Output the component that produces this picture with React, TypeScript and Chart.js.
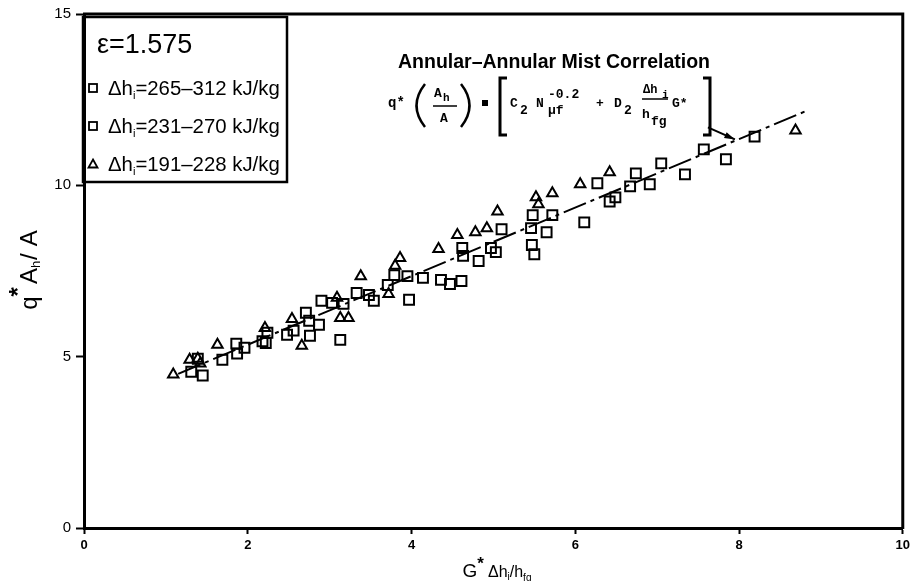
import React, { useEffect, useRef } from 'react';
import { Chart, registerables } from 'chart.js';

Chart.register(...registerables);

const X_TICKS = [0, 2, 4, 6, 8, 10];
const Y_TICKS = [0, 5, 10, 15];

const EPSILON_LABEL = 'ε=1.575';
const SERIES_RANGES = ['=265–312 kJ/kg', '=231–270 kJ/kg', '=191–228 kJ/kg'];
const TITLE = 'Annular–Annular Mist Correlation';

// Δh_i = 231–270 kJ/kg (squares)
const sqMidX = [1.31, 1.45, 1.39, 1.69, 1.86, 1.87, 1.96, 2.18, 2.22, 2.24, 2.48, 2.56, 2.71, 2.75, 2.87, 2.76, 3.13, 2.90, 3.03, 3.17, 3.33, 3.48, 3.54, 3.71, 3.79, 3.95, 3.97, 4.14, 4.36, 4.47];
const sqMidY = [4.56, 4.45, 4.94, 4.91, 5.38, 5.09, 5.26, 5.45, 5.40, 5.70, 5.64, 5.76, 6.28, 6.05, 5.93, 5.61, 5.49, 6.63, 6.57, 6.54, 6.86, 6.80, 6.63, 7.09, 7.38, 7.35, 6.66, 7.30, 7.24, 7.12];

// Δh_i = 265–312 kJ/kg (squares)
const sqHighX = [4.61, 4.62, 4.63, 4.82, 4.97, 5.03, 5.10, 5.46, 5.48, 5.47, 5.50, 5.65, 5.72, 6.11, 6.27, 6.42, 6.49, 6.67, 6.74, 6.91, 7.05, 7.34, 7.57, 7.84, 8.19];
const sqHighY = [7.21, 8.17, 7.94, 7.79, 8.17, 8.05, 8.72, 8.75, 9.13, 8.26, 7.99, 8.63, 9.13, 8.92, 10.06, 9.53, 9.65, 9.97, 10.35, 10.03, 10.64, 10.32, 11.05, 10.76, 11.42];

// Δh_i = 191–228 kJ/kg (triangles)
const triX = [1.09, 1.29, 1.39, 1.42, 1.63, 2.21, 2.54, 2.66, 3.09, 3.13, 3.23, 3.38, 3.72, 3.80, 3.86, 4.33, 4.56, 4.78, 4.92, 5.05, 5.52, 5.55, 5.72, 6.06, 6.42, 8.69];
const triY = [4.48, 4.91, 4.94, 4.80, 5.35, 5.84, 6.10, 5.32, 6.72, 6.13, 6.13, 7.35, 6.83, 7.65, 7.88, 8.14, 8.55, 8.63, 8.75, 9.24, 9.65, 9.45, 9.77, 10.03, 10.38, 11.60];

// correlation line
const fitX = [1.15, 8.8];
const fitY = [4.5, 12.15];

// arrow from formula to line
const arrowX = [7.62, 7.95];
const arrowY = [11.69, 11.34];

const FAM = '"Liberation Sans", Arial, sans-serif';
const MONO = '"Liberation Mono", "DejaVu Sans Mono", monospace';

type Seg = { t: string; s: number; dy?: number; dx?: number; w?: string; f?: string };

function richWidth(ctx: CanvasRenderingContext2D, segs: Seg[], fam: string) {
  let tot = 0;
  for (const g of segs) {
    ctx.font = `${g.w || 'normal'} ${g.s}px ${g.f || fam}`;
    tot += ctx.measureText(g.t).width + (g.dx || 0);
  }
  return tot;
}

function drawRich(ctx: CanvasRenderingContext2D, segs: Seg[], x: number, y: number, fam: string, align: 'left' | 'center') {
  const tot = richWidth(ctx, segs, fam);
  let cx = align === 'center' ? x - tot / 2 : x;
  ctx.textAlign = 'left';
  ctx.textBaseline = 'alphabetic';
  for (const g of segs) {
    ctx.font = `${g.w || 'normal'} ${g.s}px ${g.f || fam}`;
    cx += g.dx || 0;
    ctx.fillText(g.t, cx, y + (g.dy || 0));
    cx += ctx.measureText(g.t).width;
  }
}

function fitSize(ctx: CanvasRenderingContext2D, text: string, weight: string, fam: string, target: number) {
  let s = 30;
  for (; s > 6; s -= 0.5) {
    ctx.font = `${weight} ${s}px ${fam}`;
    if (ctx.measureText(text).width <= target) break;
  }
  return s;
}

const decorPlugin = {
  id: 'decor',
  afterDraw(chart: any) {
    const ctx: CanvasRenderingContext2D = chart.ctx;
    const { left, right, top, bottom } = chart.chartArea;
    const xs = chart.scales.x;
    const ys = chart.scales.y;
    ctx.save();
    ctx.fillStyle = '#000';
    ctx.strokeStyle = '#000';

    // frame top & right
    ctx.lineWidth = 3;
    ctx.beginPath();
    ctx.moveTo(left - 1, top);
    ctx.lineTo(right, top);
    ctx.lineTo(right, bottom + 1);
    ctx.stroke();

    // legend box
    ctx.lineWidth = 2.5;
    ctx.strokeRect(83, 17, 204, 165);
    const es = fitSize(ctx, EPSILON_LABEL, 'normal', FAM, 96);
    ctx.font = `normal ${es}px ${FAM}`;
    ctx.textAlign = 'left';
    ctx.fillText(EPSILON_LABEL, 97, 53);

    const entryY = [95, 133, 171];
    const markY = [88, 126, 164];
    const segsFor = (r: string): Seg[] => [
      { t: 'Δh', s: 19 },
      { t: 'i', s: 11, dy: 4 },
      { t: r, s: 19 },
    ];
    let scale = 172 / richWidth(ctx, segsFor(SERIES_RANGES[0]), FAM);
    const ls = Math.min(22, 19 * scale);
    for (let i = 0; i < 3; i++) {
      const segs: Seg[] = [
        { t: 'Δh', s: ls },
        { t: 'i', s: ls * 0.55, dy: 4 },
        { t: SERIES_RANGES[i], s: ls },
      ];
      drawRich(ctx, segs, 108, entryY[i], FAM, 'left');
      ctx.lineWidth = 1.8;
      if (i < 2) {
        ctx.strokeRect(89, markY[i] - 4, 8, 8);
      } else {
        ctx.beginPath();
        ctx.moveTo(93, markY[i] - 4.5);
        ctx.lineTo(97.5, markY[i] + 3.5);
        ctx.lineTo(88.5, markY[i] + 3.5);
        ctx.closePath();
        ctx.stroke();
      }
    }

    // title
    const ts = fitSize(ctx, TITLE, 'bold', FAM, 315);
    ctx.font = `bold ${ts}px ${FAM}`;
    ctx.textAlign = 'left';
    ctx.fillText(TITLE, 398, 68);

    // formula
    const mono = (t: string, x: number, y: number, s = 14, w = 'bold') => {
      ctx.font = `${w} ${s}px ${MONO}`;
      ctx.textAlign = 'left';
      ctx.fillText(t, x, y);
    };
    mono('q*', 388, 107);
    ctx.lineWidth = 2.5;
    // parens
    ctx.beginPath();
    ctx.moveTo(425, 84);
    ctx.quadraticCurveTo(408, 105.5, 425, 127);
    ctx.stroke();
    ctx.beginPath();
    ctx.moveTo(461, 84);
    ctx.quadraticCurveTo(478, 105.5, 461, 127);
    ctx.stroke();
    mono('A', 434, 97, 13);
    mono('h', 443, 101, 11);
    ctx.lineWidth = 1.5;
    ctx.beginPath();
    ctx.moveTo(433, 106);
    ctx.lineTo(457, 106);
    ctx.stroke();
    mono('A', 440, 122, 13);
    // equals (block)
    ctx.fillRect(482, 100, 6, 6);
    // brackets
    ctx.lineWidth = 3;
    ctx.beginPath();
    ctx.moveTo(507, 78);
    ctx.lineTo(500, 78);
    ctx.lineTo(500, 135);
    ctx.lineTo(507, 135);
    ctx.stroke();
    ctx.beginPath();
    ctx.moveTo(703, 78);
    ctx.lineTo(710, 78);
    ctx.lineTo(710, 135);
    ctx.lineTo(703, 135);
    ctx.stroke();
    mono('C', 510, 107, 13);
    mono('2', 520, 114, 13);
    mono('N', 536, 107, 13);
    mono('-0.2', 548, 98, 13);
    mono('μf', 548, 114, 13);
    mono('+', 596, 107, 13);
    mono('D', 614, 107, 13);
    mono('2', 624, 114, 13);
    mono('Δh', 643, 93, 12);
    mono('i', 662, 98, 11);
    ctx.lineWidth = 1.5;
    ctx.beginPath();
    ctx.moveTo(642, 99);
    ctx.lineTo(668, 99);
    ctx.stroke();
    mono('h', 642, 118, 13);
    mono('fg', 651, 125, 13);
    mono('G*', 672, 107, 13);

    // arrow
    const ax0 = xs.getPixelForValue(arrowX[0]);
    const ay0 = ys.getPixelForValue(arrowY[0]);
    const ax1 = xs.getPixelForValue(arrowX[1]);
    const ay1 = ys.getPixelForValue(arrowY[1]);
    ctx.lineWidth = 2;
    ctx.beginPath();
    ctx.moveTo(ax0, ay0);
    ctx.lineTo(ax1, ay1);
    ctx.stroke();
    const ang = Math.atan2(ay1 - ay0, ax1 - ax0);
    ctx.beginPath();
    ctx.moveTo(ax1, ay1);
    ctx.lineTo(ax1 - 11 * Math.cos(ang - 0.3), ay1 - 11 * Math.sin(ang - 0.3));
    ctx.lineTo(ax1 - 11 * Math.cos(ang + 0.3), ay1 - 11 * Math.sin(ang + 0.3));
    ctx.closePath();
    ctx.fill();

    // x axis title
    drawRich(
      ctx,
      [
        { t: 'G', s: 19 },
        { t: '*', s: 17, dy: -8, w: 'bold' },
        { t: 'Δh', s: 16, dx: 4 },
        { t: 'i', s: 10, dy: 3 },
        { t: '/h', s: 16 },
        { t: 'fg', s: 10, dy: 4 },
      ],
      497,
      577,
      FAM,
      'center'
    );

    // y axis title (rotated)
    ctx.save();
    ctx.translate(37, 270);
    ctx.rotate(-Math.PI / 2);
    drawRich(
      ctx,
      [
        { t: 'q', s: 24 },
        { t: '*', s: 24, dy: -11, w: 'bold' },
        { t: 'A', s: 24, dx: 3 },
        { t: 'h', s: 13, dy: 3 },
        { t: '/', s: 24, dx: 1 },
        { t: 'A', s: 24, dx: 7 },
      ],
      0,
      0,
      FAM,
      'center'
    );
    ctx.restore();

    ctx.restore();
  },
};

export default function App() {
  const ref = useRef<HTMLCanvasElement | null>(null);

  useEffect(() => {
    document.body.style.margin = '0';
    const canvas = ref.current;
    if (!canvas) return;
    const toPts = (xs: number[], ys: number[]) => xs.map((x, i) => ({ x, y: ys[i] }));
    const chart = new Chart(canvas, {
      type: 'scatter',
      data: {
        datasets: [
          {
            label: 'Δh_i=265–312 kJ/kg',
            data: toPts(sqHighX, sqHighY),
            pointStyle: 'rect',
            pointRadius: 7,
            pointBorderWidth: 2,
            pointBorderColor: '#000',
            pointBackgroundColor: 'rgba(0,0,0,0)',
          },
          {
            label: 'Δh_i=231–270 kJ/kg',
            data: toPts(sqMidX, sqMidY),
            pointStyle: 'rect',
            pointRadius: 7,
            pointBorderWidth: 2,
            pointBorderColor: '#000',
            pointBackgroundColor: 'rgba(0,0,0,0)',
          },
          {
            label: 'Δh_i=191–228 kJ/kg',
            data: toPts(triX, triY),
            pointStyle: 'triangle',
            pointRadius: 6,
            pointBorderWidth: 2,
            pointBorderColor: '#000',
            pointBackgroundColor: 'rgba(0,0,0,0)',
          },
          {
            label: 'Correlation',
            data: toPts(fitX, fitY),
            showLine: true,
            borderColor: '#000',
            borderWidth: 2,
            borderDash: [24, 5, 4, 5],
            pointRadius: 0,
            fill: false,
          },
        ],
      },
      options: {
        animation: false,
        responsive: false,
        devicePixelRatio: 1,
        layout: { padding: { top: 12, right: 7, left: 0, bottom: 0 } },
        plugins: { legend: { display: false }, tooltip: { enabled: false } },
        scales: {
          x: {
            type: 'linear',
            min: 0,
            max: 10,
            afterBuildTicks: (s: any) => {
              s.ticks = X_TICKS.map((v) => ({ value: v }));
            },
            afterFit: (s: any) => {
              s.height = 53;
            },
            grid: { display: true, drawOnChartArea: false, drawTicks: true, tickLength: 6, tickWidth: 2, tickColor: '#000', color: '#000' },
            border: { display: true, width: 3, color: '#000' },
            ticks: { color: '#000', padding: 4, font: { family: FAM, size: 13, weight: 'bold' }, maxRotation: 0 },
          },
          y: {
            type: 'linear',
            min: 0,
            max: 15,
            afterBuildTicks: (s: any) => {
              s.ticks = Y_TICKS.map((v) => ({ value: v }));
            },
            afterFit: (s: any) => {
              s.width = 84;
            },
            grid: { display: true, drawOnChartArea: false, drawTicks: true, tickLength: 8, tickWidth: 2, tickColor: '#000', color: '#000' },
            border: { display: true, width: 3, color: '#000' },
            ticks: { color: '#000', padding: 5, font: { family: FAM, size: 15 } },
          },
        },
      },
      plugins: [decorPlugin],
    } as any);
    return () => chart.destroy();
  }, []);

  return (
    <div style={{ width: 914, height: 581 }}>
      <canvas ref={ref} width={914} height={581} style={{ display: 'block', width: 914, height: 581 }} />
    </div>
  );
}
